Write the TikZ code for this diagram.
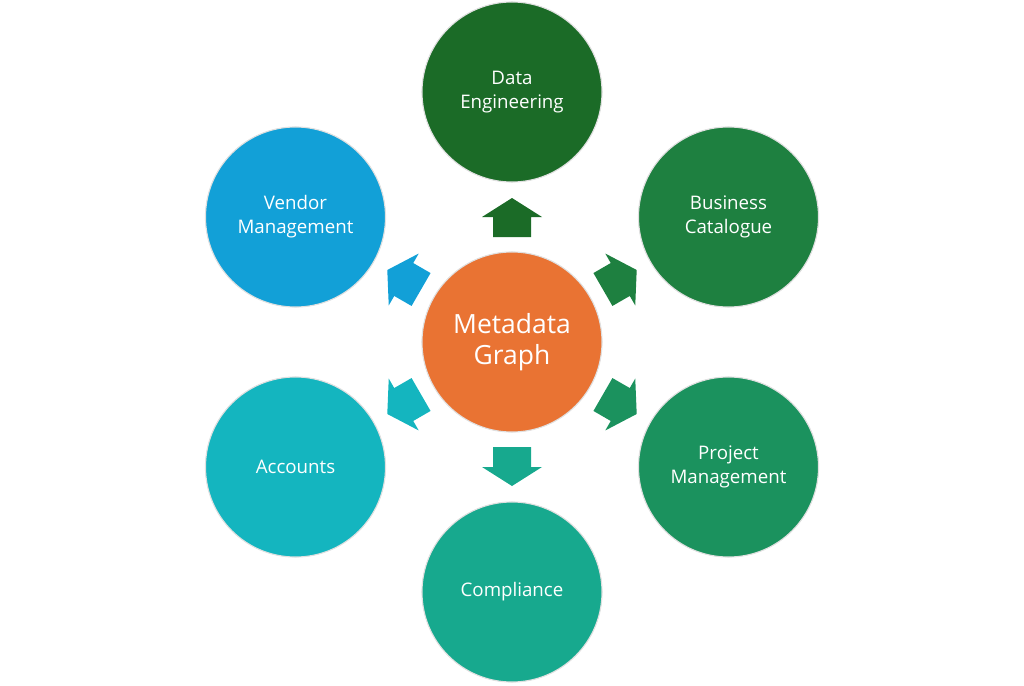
\documentclass[tikz,border=0pt]{standalone}
\usepackage{fontspec}
\setmainfont{Open Sans}
\usepackage{tikz}

\definecolor{hubcol}{HTML}{E97333}
\definecolor{dataeng}{HTML}{1B6B27}
\definecolor{buscat}{HTML}{1E8040}
\definecolor{projman}{HTML}{1B925E}
\definecolor{complian}{HTML}{17A98E}
\definecolor{accts}{HTML}{14B5BF}
\definecolor{vendman}{HTML}{12A0D7}

\begin{document}
\begin{tikzpicture}[x=0.025cm,y=0.025cm]
  \tikzset{hub/.style = {shape=circle,fill=hubcol,draw=black!12,line width=0.8pt,minimum size=4.5cm,inner sep=1pt,text=white,align=center,font=\fontsize{18.8}{22.5}\selectfont}}
  \tikzset{area/.style = {shape=circle,draw=black!12,line width=0.8pt,minimum size=4.5cm,inner sep=1pt,text=white,align=center,font=\fontsize{13.3}{17}\selectfont}}

  \useasboundingbox (-512,-343) rectangle (512,342);

	\node[hub] (G) at (0,0) {Metadata\\Graph};
	\node[area,fill=dataeng] (DE) at (90:250) {Data\\Engineering};
	\node[area,fill=buscat] (BC) at (30:250) {Business\\Catalogue};
	\node[area,fill=projman] (PM) at (-30:250) {Project\\Management};
	\node[area,fill=complian] (CO) at (-90:250) {Compliance};
	\node[area,fill=accts] (AC) at (-150:250) {Accounts};
	\node[area,fill=vendman] (VM) at (150:250) {Vendor\\Management};

       \foreach \to/\ang/\col in {DE/90/dataeng, BC/30/buscat, PM/-30/projman, CO/-90/complian, AC/-150/accts, VM/150/vendman}
    \fill[\col, shift={(G.center)}, rotate=\ang] (105,-19) -- (125,-19) -- (125,-30) -- (144,0) -- (125,30) -- (125,19) -- (105,19) -- cycle;
\end{tikzpicture}
\end{document}
